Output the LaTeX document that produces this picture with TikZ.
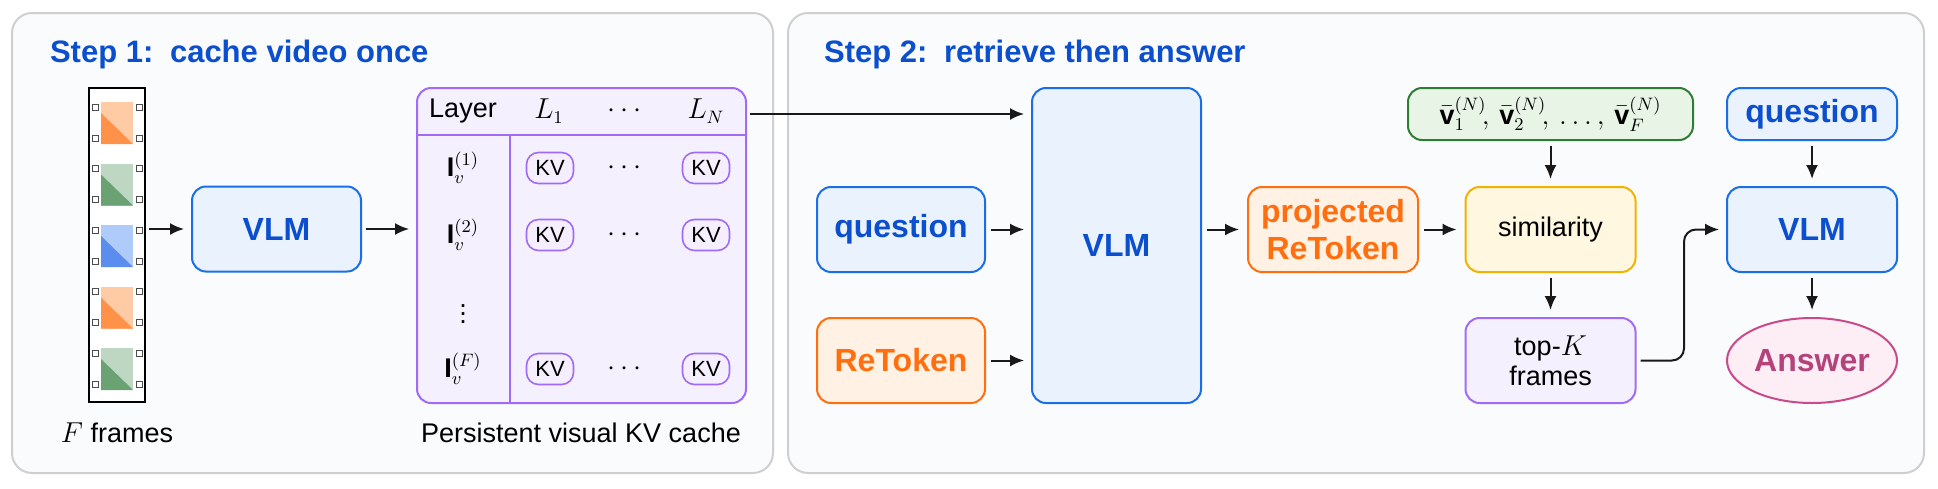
\documentclass[tikz,border=0pt]{standalone}
\usepackage{fontspec}
\usepackage{amsmath}
\setmainfont{Liberation Sans}
\usetikzlibrary{positioning}
\usetikzlibrary{arrows.meta}
\usetikzlibrary{shapes.geometric}

\definecolor{panelfill}{HTML}{F9FBFD}
\definecolor{panelline}{HTML}{CFCFCF}
\definecolor{bluetext}{HTML}{0B4FCF}
\definecolor{blueline}{HTML}{1A6FE8}
\definecolor{bluefill}{HTML}{EAF2FE}
\definecolor{orangeline}{HTML}{FF6F0F}
\definecolor{orangefill}{HTML}{FFF1E4}
\definecolor{greenline}{HTML}{2E7D32}
\definecolor{greenfill}{HTML}{E8F5E6}
\definecolor{yellowline}{HTML}{F2B300}
\definecolor{yellowfill}{HTML}{FFF7E0}
\definecolor{purpleline}{HTML}{A06CF5}
\definecolor{purplefill}{HTML}{F4F0FE}
\definecolor{pinkline}{HTML}{C84A8A}
\definecolor{pinkfill}{HTML}{FDEEF5}
\definecolor{orL}{HTML}{FFCBA4}\definecolor{orD}{HTML}{FF9248}
\definecolor{grL}{HTML}{BDD7C3}\definecolor{grD}{HTML}{6AA273}
\definecolor{blL}{HTML}{AECBFA}\definecolor{blD}{HTML}{5B8DEF}

\begin{document}
\begin{tikzpicture}[x=0.5pt,y=-0.5pt,
            >={Latex[length=7pt,width=6pt]},
            flow/.style = {->,line width=1pt,black!90},
            panel/.style = {draw=panelline,fill=panelfill,line width=1pt,rounded corners=10pt},
            steptitle/.style = {anchor=base west,text=bluetext,font=\fontsize{15.5}{18}\selectfont\bfseries},
            box/.style = {draw,rounded corners=7pt,line width=1pt,inner sep=0pt,align=center,
                minimum width=85pt,minimum height=42.5pt,font=\fontsize{16}{18.5}\selectfont\bfseries},
            bluebox/.style = {box,draw=blueline,fill=bluefill,text=bluetext},
            orangebox/.style = {box,draw=orangeline,fill=orangefill,text=orangeline},
            plainbox/.style = {box,font=\fontsize{13.5}{15}\selectfont,text=black},
            kvpill/.style = {draw=purpleline,fill=purplefill!60!purpleline!25,rounded corners=6pt,line width=0.8pt,
                inner sep=0pt,minimum width=23.5pt,minimum height=15.5pt,font=\fontsize{11}{12}\selectfont},
            cell/.style = {font=\fontsize{13.5}{15}\selectfont},
            label/.style = {font=\fontsize{13.5}{15}\selectfont}]
  \useasboundingbox (0,0) rectangle (1938,488);
  % panels
  \draw[panel] (12,13) rectangle (773,473);
  \draw[panel] (788,13) rectangle (1924,473);
  \node[steptitle] (t1) at (43,62) {Step 1:\, cache video once};
  \node[steptitle] (t2) at (817,62) {Step 2:\, retrieve then answer};

  % film strip
  \draw[line width=1pt,fill=white] (89,88) rectangle (145,402);
  \foreach \i/\cl/\cd in {0/orL/orD,1/grL/grD,2/blL/blD,3/orL/orD,4/grL/grD}{
    \pgfmathsetmacro\ty{102+61.5*\i}
    \fill[\cl] (101,\ty) rectangle (133,\ty+42);
    \fill[\cd] (101,\ty+11) -- (133,\ty+42) -- (101,\ty+42) -- cycle;
    \foreach \sx in {95,139}{
      \draw[black!70,fill=white,line width=0.4pt] (\sx-3,\ty+2) rectangle (\sx+3,\ty+8);
      \draw[black!70,fill=white,line width=0.4pt] (\sx-3,\ty+33) rectangle (\sx+3,\ty+39);
    }
  }
  \coordinate (film) at (149,229);
  \node[label] (flabel) at (117,433) {$F$ frames};

  \node[bluebox,minimum width=84.5pt] (vlm1) at (276.5,229) {VLM};

  % KV cache table
  \draw[draw=purpleline,fill=purplefill,line width=1pt,rounded corners=7pt] (417,88) rectangle (746,403);
  \draw[purpleline,line width=1pt] (417,135) -- (746,135);
  \draw[purpleline,line width=1pt] (510,135) -- (510,403);
  \node[cell] (hlayer) at (463,111) {Layer};
  \node[cell] (hl1) at (549,111) {$L_1$};
  \node[cell] (hdots) at (627,111) {$\cdots$};
  \node[cell] (hln) at (706,111) {$L_N$};
  \foreach \r/\y/\s in {1/168/1,2/235/2,3/369/F}{
    \node[cell] (row\r) at (463,\y) {\textbf{I}$_v^{(\s)}$};
    \node[kvpill] (kva\r) at (550,\y) {KV};
    \node[cell] (dots\r) at (627,\y) {$\cdots$};
    \node[kvpill] (kvb\r) at (706,\y) {KV};
  }
  \node[cell] (vd) at (463,308) {$\vdots$};
  \node[label] (cachelabel) at (581,433) {Persistent visual KV cache};
  \coordinate (tabin) at (409,229);
  \coordinate (tabout) at (750,114);

  % step 2
  \node[bluebox,minimum width=84.5pt,minimum height=157.5pt] (vlm2) at (1116.5,245.5) {VLM};
  \node[bluebox,minimum width=84pt] (q2) at (901,229.5) {question};
  \node[orangebox,minimum width=84pt] (ret) at (901,360.5) {ReToken};
  \node[orangebox] (proj) at (1333,229.5) {projected\\ReToken};
  \node[plainbox,draw=greenline,fill=greenfill,minimum width=142.5pt,minimum height=26pt] (vbar) at (1550.5,114)
      {$\bar{\textbf{v}}_1^{(N)}\!,\,\bar{\textbf{v}}_2^{(N)}\!,\,\ldots,\,\bar{\textbf{v}}_F^{(N)}$};
  \node[plainbox,draw=yellowline,fill=yellowfill] (sim) at (1550.5,229.5) {similarity};
  \node[plainbox,draw=purpleline,fill=purplefill] (topk) at (1550.5,360.5) {top-$K$\\frames};
  \node[bluebox,minimum height=26pt] (q3) at (1812,114) {question};
  \node[bluebox] (vlm3) at (1812,229.5) {VLM};
  \node[ellipse,draw=pinkline,fill=pinkfill,line width=1pt,text=pinkline!90!black,
      minimum width=85pt,minimum height=42.5pt,inner sep=0pt,font=\fontsize{16}{18.5}\selectfont\bfseries] (ans) at (1812,360.5) {Answer};

  % connectors
  \draw[flow] (film) -- ([xshift=-3.5pt]vlm1.west);
  \draw[flow] ([xshift=2pt]vlm1.east) -- (tabin);
  \draw[flow] (tabout) -- ([xshift=-3.5pt]vlm2.west |- tabout);
  \draw[flow] ([xshift=2.5pt]q2.east) -- ([xshift=-3.5pt]vlm2.west |- q2.east);
  \draw[flow] ([xshift=2.5pt]ret.east) -- ([xshift=-3.5pt]vlm2.west |- ret.east);
  \draw[flow] ([xshift=2.5pt]vlm2.east |- proj.west) -- ([xshift=-4pt]proj.west);
  \draw[flow] ([xshift=2.5pt]proj.east) -- ([xshift=-4pt]sim.west);
  \draw[flow] ([yshift=-2.5pt]vbar.south) -- ([yshift=3.5pt]sim.north);
  \draw[flow] ([yshift=-2.5pt]sim.south) -- ([yshift=3.5pt]topk.north);
  \draw[flow,rounded corners=6pt] ([xshift=2pt]topk.east) -| (1684,229.5) -- ([xshift=-3.5pt]vlm3.west);
  \draw[flow] ([yshift=-2.5pt]q3.south) -- ([yshift=3.5pt]vlm3.north);
  \draw[flow] ([yshift=-2.5pt]vlm3.south) -- ([yshift=3.5pt]ans.north);
\end{tikzpicture}
\end{document}
